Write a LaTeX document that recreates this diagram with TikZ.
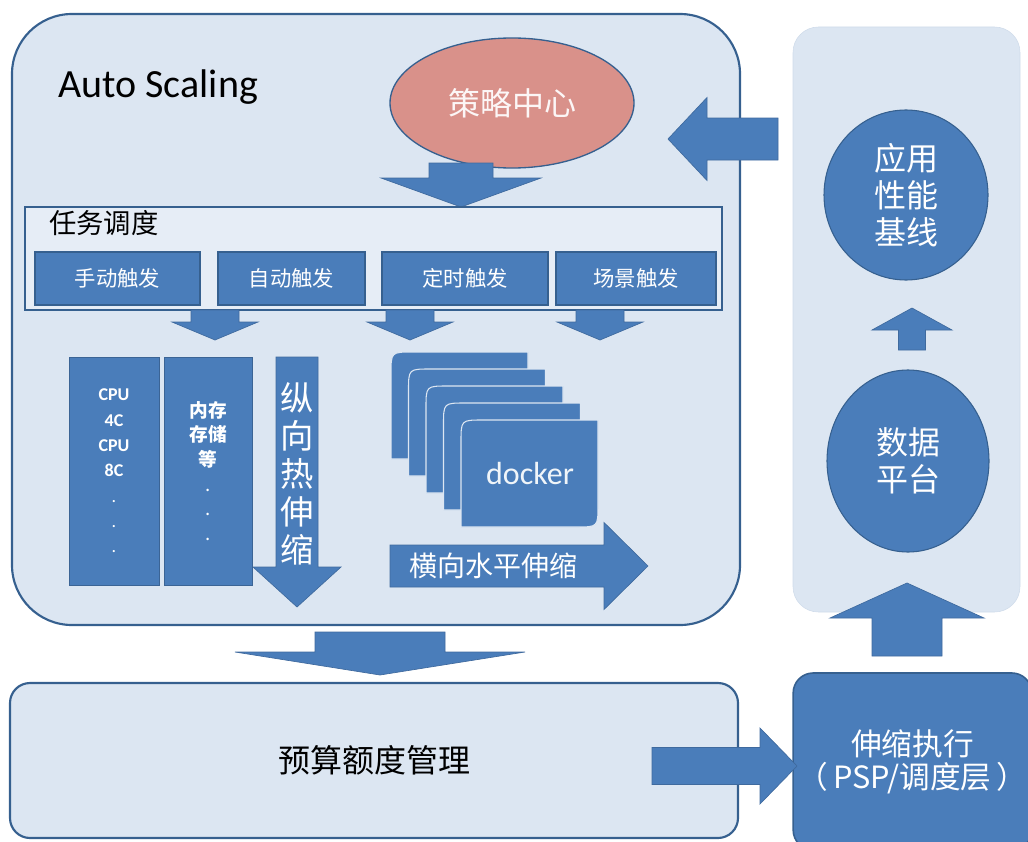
\documentclass[tikz,border=0pt]{standalone}
\usepackage{fontspec}
\setmainfont{Carlito}
\newfontfamily\cjk{Noto Sans CJK SC}
\usetikzlibrary{shapes.geometric}

\definecolor{bgblue}{HTML}{DCE6F2}
\definecolor{taskfill}{HTML}{E6EDF6}
\definecolor{lineblue}{HTML}{36608F}
\definecolor{boxblue}{HTML}{4A7DBA}
\definecolor{salmon}{HTML}{D9918A}

% vertical block arrow: x, tail y, head base y, tip y, shaft half, head half
\newcommand{\vblk}[6]{%
  \filldraw[blk] (#1-#5,#2) -- (#1+#5,#2) -- (#1+#5,#3) -- (#1+#6,#3) -- (#1,#4)
    -- (#1-#6,#3) -- (#1-#5,#3) -- cycle;}
% horizontal block arrow: y, tail x, head base x, tip x, shaft half, head half
\newcommand{\hblk}[6]{%
  \filldraw[blk] (#2,#1-#5) -- (#2,#1+#5) -- (#3,#1+#5) -- (#3,#1+#6) -- (#4,#1)
    -- (#3,#1-#6) -- (#3,#1-#5) -- cycle;}

\tikzset{
  panel/.style={fill=bgblue, draw=lineblue, line width=1.6pt},
  trigbox/.style={fill=boxblue, draw=lineblue, line width=0.8pt, text=white,
    font=\cjk\fontsize{16}{18}\selectfont, minimum height=39.75pt, inner sep=0pt},
  resbox/.style={fill=boxblue, draw=boxblue!80!black, line width=0.6pt, text=white,
    minimum height=171pt, align=center, inner sep=0pt},
  blk/.style={fill=boxblue, draw=boxblue!85!black, line width=0.5pt},
  dock/.style={fill=boxblue, draw=bgblue, line width=0.8pt},
  bubble/.style={ellipse, fill=boxblue, draw=lineblue, line width=0.8pt, text=white,
    align=center, inner sep=0pt, font=\cjk\fontsize{24}{28}\selectfont},
}

\begin{document}
\begin{tikzpicture}[x=0.75pt,y=-0.75pt]
  \useasboundingbox (0,0) rectangle (1028,842);

  % Auto Scaling frame
  \node[panel, rounded corners=45pt, minimum width=546pt, minimum height=458.25pt]
    (scaling) at (376,319.5) {};
  \node[anchor=base west, font=\fontsize{30}{36}\selectfont, inner sep=0pt]
    (title) at (58,98) {Auto Scaling};
  \node[ellipse, fill=salmon, draw=lineblue, line width=1pt, minimum width=183pt,
    minimum height=97.5pt, text=white!92!salmon, font=\cjk\fontsize{24}{28}\selectfont]
    (policy) at (512,103) {策略中心};
  \vblk{461}{163}{178}{207}{32}{80}

  % task dispatch
  \node[draw=lineblue, fill=taskfill, line width=1.5pt, minimum width=522.75pt,
    minimum height=77.25pt] (dispatch) at (373.5,258.5) {};
  \node[anchor=west, font=\cjk\fontsize{20.5}{24}\selectfont, inner sep=0pt]
    (dispatchlbl) at (49,223) {任务调度};
  \node[trigbox, minimum width=123.75pt] (manual) at (117.5,278.5) {手动触发};
  \node[trigbox, minimum width=110.25pt] (auto) at (291.5,278.5) {自动触发};
  \node[trigbox, minimum width=124.5pt] (timer) at (465,278.5) {定时触发};
  \node[trigbox, minimum width=120pt] (scene) at (636,278.5) {场景触发};
  \vblk{215}{310}{322}{340}{24}{43}
  \vblk{410}{310}{322}{340}{24}{43}
  \vblk{600}{310}{322}{340}{24}{43}

  % vertical scaling
  \node[resbox, minimum width=67.5pt, font=\bfseries\fontsize{13.5}{19}\selectfont]
    (cpu) at (114,471) {CPU\\4C\\CPU\\8C\\{\mdseries.}\\{\mdseries.}\\{\mdseries.}};
  \node[resbox, minimum width=66pt, font=\cjk\bfseries\fontsize{14}{18.5}\selectfont]
    (mem) at (208,471) {内存\\存储\\等\\{\mdseries.}\\{\mdseries.}\\{\mdseries.}};
  \vblk{297}{357}{567}{607}{21}{44}
  \node[text=white, align=center, inner sep=0pt, font=\cjk\fontsize{25}{28.5}\selectfont]
    (vert) at (297,474) {纵\\向\\热\\伸\\缩};

  % horizontal scaling
  \foreach \i in {0,...,4}{
    \pgfmathsetmacro\dkx{391+17.5*\i}
    \pgfmathsetmacro\dky{352+17*\i}
    \filldraw[dock] (\dkx,\dky+107) -- (\dkx,\dky+22) .. controls (\dkx,\dky) .. (\dkx+22,\dky)
      -- (\dkx+137,\dky) -- (\dkx+137,\dky+85) .. controls (\dkx+137,\dky+107) .. (\dkx+115,\dky+107)
      -- cycle;
  }
  \node[text=white!92!boxblue, font=\fontsize{24}{28}\selectfont] (docker) at (530,473) {docker};
  \hblk{566}{390}{604}{648}{21}{43.5}
  \node[text=white, font=\cjk\fontsize{21}{24}\selectfont] (horiz) at (493,566) {横向水平伸缩};

  % budget
  \vblk{380}{632}{652}{675}{65}{145}
  \node[panel, rounded corners=15pt, minimum width=546pt, minimum height=116.25pt,
    font=\cjk\fontsize{24}{28}\selectfont] (budget) at (374,760.5) {预算额度管理};

  % monitoring side
  \node[fill=bgblue, draw=bgblue!92!lineblue, rounded corners=19pt, minimum width=170.25pt,
    minimum height=438.75pt] (monitor) at (906.5,319.5) {};
  \node[bubble, minimum width=123pt, minimum height=127.5pt] (baseline) at (906,195)
    {应用\\性能\\基线};
  \vblk{912}{350}{330}{308}{13.5}{40}
  \node[bubble, minimum width=121.5pt, minimum height=136.5pt] (data) at (908,461)
    {数据\\平台};
  \hblk{139}{778}{707}{668}{21}{41.5}

  % execution
  \node[fill=boxblue, draw=lineblue, line width=1.2pt, rounded corners=15pt,
    minimum width=168.75pt, minimum height=132.75pt, text=white, align=center,
    font=\cjk\fontsize{23}{25}\selectfont] (exec) at (912.5,761.5)
    {伸缩执行\\（\,PSP/调度层\,）};
  \vblk{907}{656}{618}{583}{35}{77}
  \hblk{766}{652}{760}{797}{18.5}{38}
\end{tikzpicture}
\end{document}
